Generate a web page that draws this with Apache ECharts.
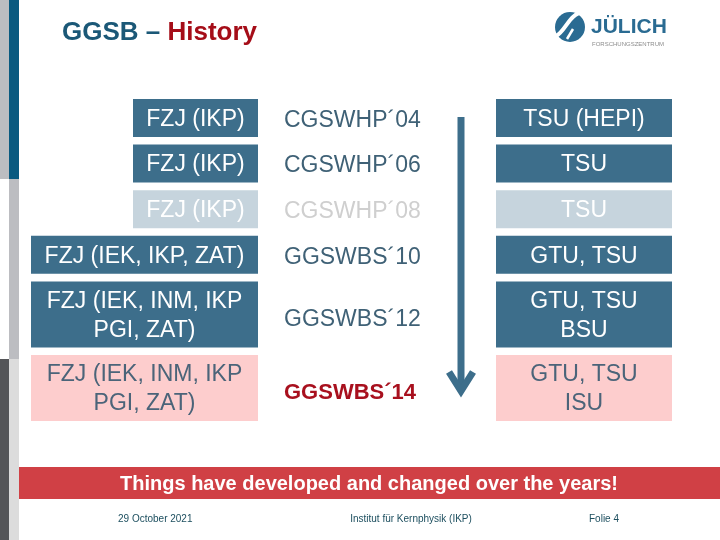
<!DOCTYPE html>
<html><head><meta charset="utf-8">
<script src="https://cdn.jsdelivr.net/npm/echarts@6/dist/echarts.min.js"></script>
<style>html,body{margin:0;padding:0;background:#fff}#c{width:720px;height:540px}</style>
</head><body><div id="c"></div>
<script>
// ---- content ----
const partners = ['FZJ (IKP)', 'FZJ (IKP)', 'FZJ (IKP)', 'FZJ (IEK, IKP, ZAT)', 'FZJ (IEK, INM, IKP\nPGI, ZAT)', 'FZJ (IEK, INM, IKP\nPGI, ZAT)'];
const schools = ['CGSWHP\u00b404', 'CGSWHP\u00b406', 'CGSWHP\u00b408', 'GGSWBS\u00b410', 'GGSWBS\u00b412', 'GGSWBS\u00b414'];
const hosts = ['TSU (HEPI)', 'TSU', 'TSU', 'GTU, TSU', 'GTU, TSU\nBSU', 'GTU, TSU\nISU'];
const status = ['held', 'held', 'faded', 'held', 'held', 'current'];
const titleMain = 'GGSB \u2013 ';
const titleAccent = 'History';
const banner = 'Things have developed and changed over the years!';
const footerDate = '29 October 2021';
const footerInst = 'Institut f\u00fcr Kernphysik (IKP)';
const footerPage = 'Folie 4';

// ---- layout ----
const FONT = '"Liberation Sans", Arial, sans-serif';
const LINE_H = 28, PAD = 10, GAP = 7.6;
let acc = 0;
const rowData = partners.map((p, i) => {
  const lines = Math.max(p.split('\n').length, hosts[i].split('\n').length);
  const y0 = acc, y1 = acc + PAD + LINE_H * lines;
  acc = y1 + GAP;
  return [i, y0, y1];
});
const yMax = acc - GAP;

const mctx = document.createElement('canvas').getContext('2d');
mctx.font = '23px "Liberation Sans"';
function textW(s) { return Math.max.apply(null, s.split('\n').map(l => mctx.measureText(l).width)); }

const DARK = '#3d6e8b', FADED = '#c6d4dd', PINK = '#fdcdcd';

function renderRow(params, api) {
  const i = api.value(0);
  const y0 = api.value(1), y1 = api.value(2);
  const st = status[i];
  const fill = st === 'faded' ? FADED : st === 'current' ? PINK : DARK;
  const txt = st === 'current' ? '#4b6479' : '#ffffff';
  const top = api.coord([0, y0])[1];
  const bot = api.coord([0, y1])[1];
  const h = bot - top, cy = (top + bot) / 2 + 1.5;
  const multi = partners[i].indexOf('\n') >= 0;
  const midY = cy + (multi ? 3.5 : 1);
  const lRight = api.coord([258, 0])[0];
  const lW = textW(partners[i]) > 150 ? 227 : 125;
  const midX = api.coord([284, 0])[0];
  const rL = api.coord([496, 0])[0], rR = api.coord([672, 0])[0];
  const midStyle = st === 'faded' ? { fill: '#cfcfcf', font: '23px ' + FONT }
    : st === 'current' ? { fill: '#a8101e', font: 'bold 22px ' + FONT }
    : { fill: '#3f6176', font: '23px ' + FONT };
  return {
    type: 'group',
    children: [
      { type: 'rect', shape: { x: lRight - lW, y: top, width: lW, height: h }, style: { fill: fill } },
      { type: 'text', style: { text: partners[i], x: lRight - lW / 2, y: cy, align: 'center', verticalAlign: 'middle', fill: txt, font: '23px ' + FONT, lineHeight: LINE_H + 1 } },
      { type: 'text', style: Object.assign({ text: schools[i], x: midX, y: midY, align: 'left', verticalAlign: 'middle' }, midStyle) },
      { type: 'rect', shape: { x: rL, y: top, width: rR - rL, height: h }, style: { fill: fill } },
      { type: 'text', style: { text: hosts[i], x: (rL + rR) / 2, y: cy, align: 'center', verticalAlign: 'middle', fill: txt, font: '23px ' + FONT, lineHeight: LINE_H + 1 } }
    ]
  };
}

function renderArrow(params, api) {
  const first = rowData[0], last = rowData[rowData.length - 1];
  const p0 = api.coord([461, (first[1] + first[2]) / 2 - 1]);
  const p1 = api.coord([461, (last[1] + last[2]) / 2 + 3]);
  return {
    type: 'group',
    children: [
      { type: 'line', shape: { x1: p0[0], y1: p0[1], x2: p1[0], y2: p1[1] - 4 }, style: { stroke: DARK, lineWidth: 7 } },
      { type: 'polyline', shape: { points: [[p1[0] - 12, p1[1] - 19], [p1[0], p1[1]], [p1[0] + 12, p1[1] - 19]] }, style: { stroke: DARK, lineWidth: 7, fill: null, lineJoin: 'miter' } }
    ]
  };
}

const chart = echarts.init(document.getElementById('c'), null, { renderer: 'canvas' });
chart.setOption({
  animation: false,
  backgroundColor: '#ffffff',
  grid: { left: 0, right: 0, top: 99, height: yMax },
  xAxis: { type: 'value', min: 0, max: 720, show: false },
  yAxis: { type: 'value', min: 0, max: yMax, inverse: true, show: false },
  series: [
    { type: 'custom', renderItem: renderRow, data: rowData, clip: false, silent: true },
    { type: 'custom', renderItem: renderArrow, data: [[0]], clip: false, silent: true }
  ],
  graphic: [
    // left edge strips
    { type: 'rect', shape: { x: 0, y: 0, width: 9, height: 179 }, style: { fill: '#bcbdc1' } },
    { type: 'rect', shape: { x: 9, y: 0, width: 10, height: 179 }, style: { fill: '#0a5a80' } },
    { type: 'rect', shape: { x: 9, y: 179, width: 10, height: 180 }, style: { fill: '#bcbdc1' } },
    { type: 'rect', shape: { x: 0, y: 359, width: 9, height: 181 }, style: { fill: '#545558' } },
    { type: 'rect', shape: { x: 9, y: 359, width: 10, height: 181 }, style: { fill: '#dcdcdc' } },
    // title
    { type: 'text', x: 62, y: 33, style: { text: '{a|' + titleMain + '}{b|' + titleAccent + '}', verticalAlign: 'middle', rich: {
        a: { fill: '#1b5877', font: 'bold 26px ' + FONT },
        b: { fill: '#a50d18', font: 'bold 26px ' + FONT } } } },
    // logo
    { type: 'circle', shape: { cx: 570, cy: 27, r: 15 }, style: { fill: '#2a6b92' } },
    { type: 'bezierCurve', shape: { x1: 556, y1: 36, cpx1: 566, cpy1: 31, cpx2: 569, cpy2: 13, x2: 584, y2: 12 }, style: { stroke: '#ffffff', lineWidth: 4, fill: null } },
    { type: 'line', shape: { x1: 567, y1: 39, x2: 573, y2: 29 }, style: { stroke: '#ffffff', lineWidth: 2.5 } },
    { type: 'text', x: 591, y: 27, style: { text: 'J\u00dcLICH', fill: '#2a6b92', font: 'bold 21px ' + FONT, verticalAlign: 'middle' } },
    { type: 'text', x: 592, y: 44, style: { text: 'FORSCHUNGSZENTRUM', fill: '#8c8c8c', font: '6px ' + FONT, verticalAlign: 'middle' } },
    // banner
    { type: 'rect', shape: { x: 19, y: 467, width: 701, height: 32 }, style: { fill: '#d04045' } },
    { type: 'text', x: 369, y: 484, style: { text: banner, fill: '#ffffff', font: 'bold 20px ' + FONT, align: 'center', verticalAlign: 'middle' } },
    // footer
    { type: 'text', x: 118, y: 519, style: { text: footerDate, fill: '#1d4f5f', font: '10px ' + FONT, align: 'left', verticalAlign: 'middle' } },
    { type: 'text', x: 411, y: 519, style: { text: footerInst, fill: '#1d4f5f', font: '10px ' + FONT, align: 'center', verticalAlign: 'middle' } },
    { type: 'text', x: 589, y: 519, style: { text: footerPage, fill: '#1d4f5f', font: '10px ' + FONT, align: 'left', verticalAlign: 'middle' } }
  ]
});
</script>
</body></html>
